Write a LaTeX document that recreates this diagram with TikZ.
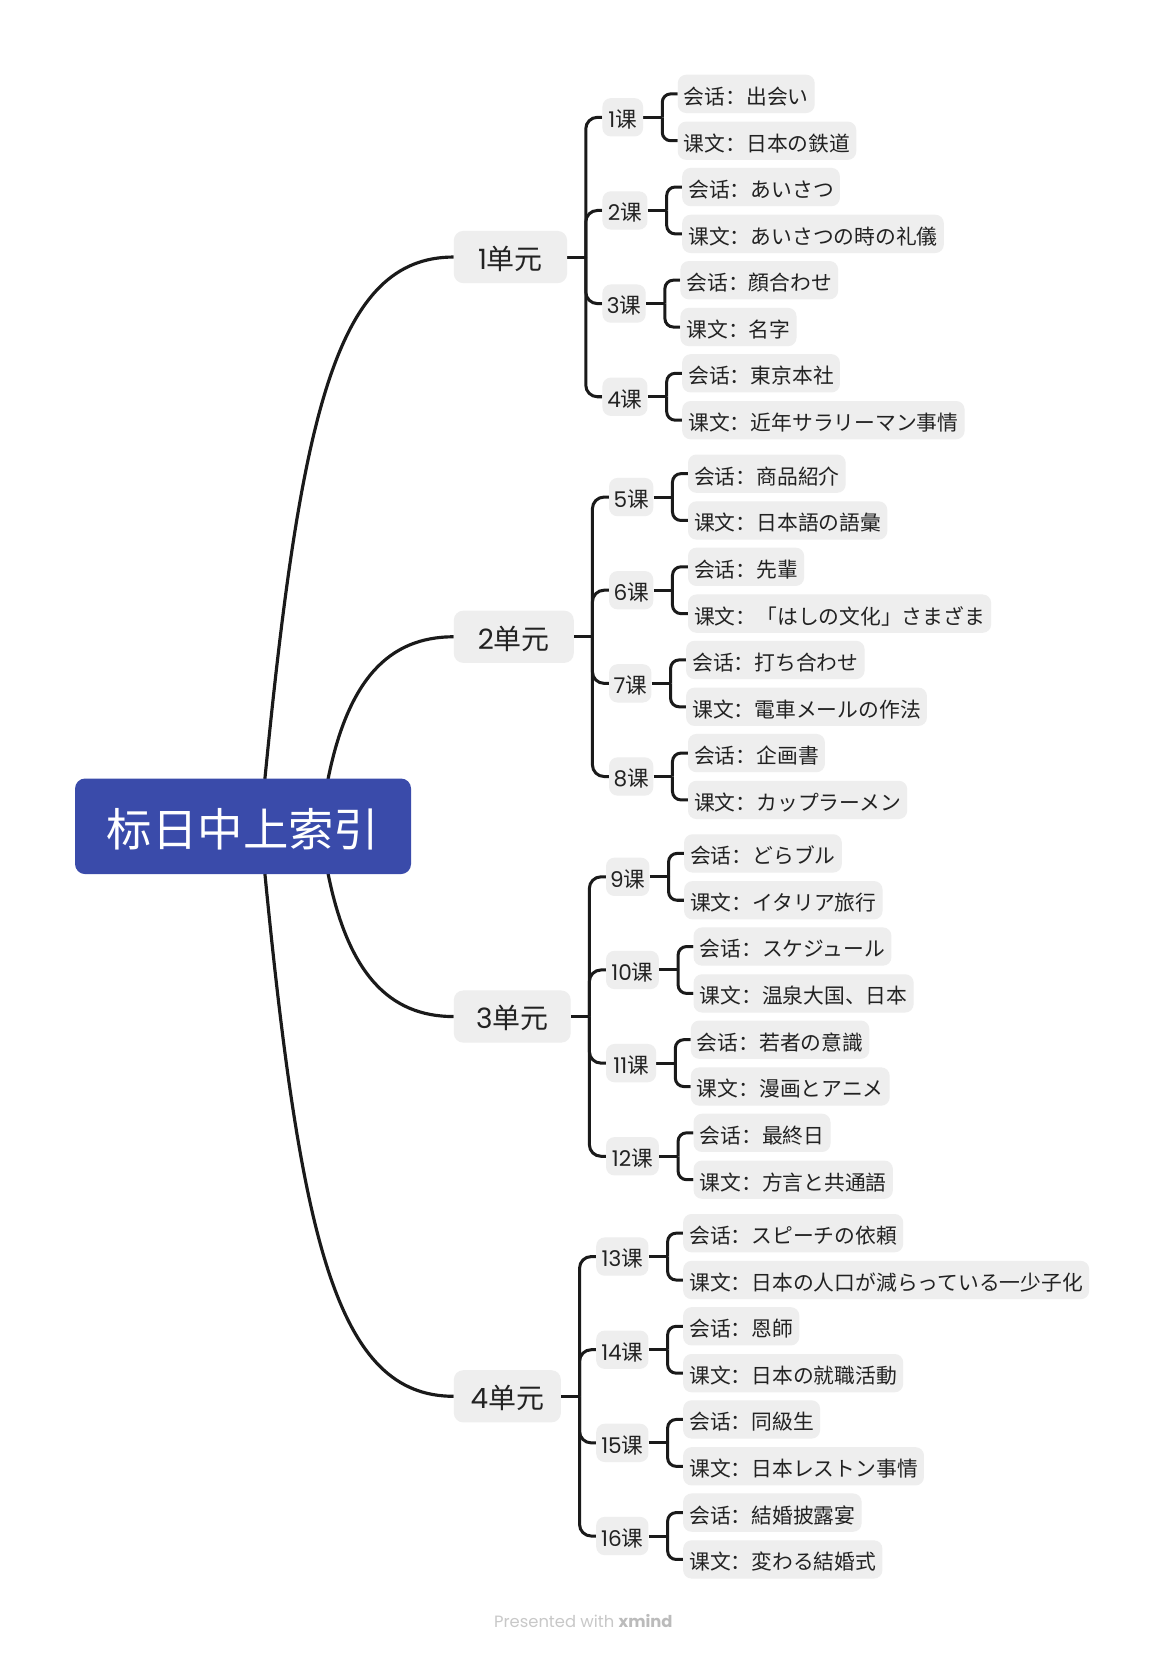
\documentclass[tikz,border=0pt]{standalone}
\usepackage{fontspec}
\setmainfont{Noto Sans CJK SC}
\newfontfamily\cjkfont{Noto Sans CJK SC}
\newfontfamily\latfont{Poppins}
\usetikzlibrary{calc,backgrounds}
\definecolor{rootblue}{HTML}{3A4BAA}
\definecolor{boxgray}{HTML}{EEEEEE}
\definecolor{inkc}{HTML}{222222}
\definecolor{linec}{HTML}{1A1A1A}
\definecolor{footgray}{HTML}{C8C8C8}
\definecolor{footdark}{HTML}{BBBBBB}
\tikzset{
 rootbox/.style={fill=rootblue, rounded corners=9.5pt, minimum width=318.5pt, minimum height=90.6pt, inner sep=0pt, text=white, font=\cjkfont\fontsize{43}{50}\selectfont, text height=41pt, text depth=2pt},
 unitbox/.style={fill=boxgray, rounded corners=9pt, minimum height=49.5pt, inner sep=0pt, text=inkc, font=\cjkfont\fontsize{26.5}{30}\selectfont, text height=25pt, text depth=1.5pt, anchor=west},
 lessonbox/.style={fill=boxgray, rounded corners=8pt, minimum height=36.3pt, inner sep=0pt, text=inkc, font=\cjkfont\fontsize{20.5}{24}\selectfont, text height=20pt, text depth=0.4pt, anchor=west},
 leafbox/.style={fill=boxgray, rounded corners=8pt, minimum height=36.3pt, inner xsep=5.8pt, inner ysep=0pt, text=inkc, font=\cjkfont\fontsize{19.7}{24}\selectfont, text height=19.7pt, text depth=0pt, anchor=west},
 branch/.style={draw=linec, line width=2.85pt},
 rootline/.style={draw=linec, line width=3pt},
}
% #1 unit, #2 lesson name, #3 x, #4 y, #5 width, #6 number, #7 dialogue, #8 text
\newcommand{\mklesson}[8]{%
 \node[lessonbox, minimum width=#5pt] (#2) at (#3,-#4) {{\latfont #6}课};
 \node[leafbox] (#2a) at ($(#2.east)+(32.5,22.2)$) {会话：#7};
 \node[leafbox] (#2b) at ($(#2.east)+(32.5,-22.2)$) {课文：#8};
 \begin{scope}[on background layer]
  \draw[branch] (#2.east) -- ++(18,0) coordinate (#2k);
  \draw[branch, rounded corners=8pt] (#2k) |- (#2a.west);
  \draw[branch, rounded corners=8pt] (#2k) |- (#2b.west);
  \draw[branch, rounded corners=11pt] (#1k) |- (#2.west);
 \end{scope}
}
\newcommand{\mkunit}[5]{%
 \node[unitbox, minimum width=#4pt] (#1) at (430,-#2) {{\latfont #3}单元};
 \coordinate (#1k) at ($(#1.east)+(17.5,0)$);
 \begin{scope}[on background layer]
  \draw[branch] (#1.east) -- (#1k);
 \end{scope}
}
\begin{document}
\begin{tikzpicture}[x=1pt,y=1pt]
\begin{scope}[on background layer]
 \fill[white] (0,0) rectangle (1106.3,-1567);
\end{scope}
\useasboundingbox (0,0) rectangle (1106.3,-1567);

\node[rootbox] (root) at (230.4,-783.3) {标日中上索引};

\mkunit{u1}{243.65}{1}{107.4}{}
\mkunit{u2}{603.65}{2}{113.7}{}
\mkunit{u3}{963.65}{3}{110.8}{}
\mkunit{u4}{1323.65}{4}{101.5}{}

\coordinate (r1) at (250.4,-745);
\coordinate (r2) at (309.7,-745);
\coordinate (r3) at (309.7,-821.6);
\coordinate (r4) at (250.4,-821.6);
\begin{scope}[on background layer]
 \draw[rootline] (r1) -- (251.2,-737.5) .. controls (285.5,-387.5) and ($(u1.west)+(-110,0)$) .. (u1.west);
 \draw[rootline] (r2) -- (311.2,-737.5) .. controls (330,-645) and ($(u2.west)+(-62,0)$) .. (u2.west);
 \draw[rootline] (r3) -- (311.2,-829.1) .. controls (330,-921.6) and ($(u3.west)+(-62,0)$) .. (u3.west);
 \draw[rootline] (r4) -- (251.2,-829.1) .. controls (285.5,-1179.1) and ($(u4.west)+(-110,0)$) .. (u4.west);
\end{scope}

\mklesson{u1}{l1}{570.9}{111.2}{38.5}{1}{出会い}{日本の鉄道}
\mklesson{u1}{l2}{570.9}{199.5}{42.7}{2}{あいさつ}{あいさつの時の礼儀}
\mklesson{u1}{l3}{570.9}{287.8}{41}{3}{顔合わせ}{名字}
\mklesson{u1}{l4}{570.9}{376.1}{42.7}{4}{東京本社}{近年サラリーマン事情}

\mklesson{u2}{l5}{577.2}{471.2}{41.9}{5}{商品紹介}{日本語の語彙}
\mklesson{u2}{l6}{577.2}{559.5}{41.9}{6}{先輩}{「はしの文化」さまざま}
\mklesson{u2}{l7}{577.2}{647.8}{40.1}{7}{打ち合わせ}{電車メールの作法}
\mklesson{u2}{l8}{577.2}{736.1}{41.9}{8}{企画書}{カップラーメン}

\mklesson{u3}{l9}{574.3}{831.2}{41.1}{9}{どらブル}{イタリア旅行}
\mklesson{u3}{l10}{574.3}{919.5}{50.1}{10}{スケジュール}{温泉大国、日本}
\mklesson{u3}{l11}{574.3}{1007.8}{47.5}{11}{若者の意識}{漫画とアニメ}
\mklesson{u3}{l12}{574.3}{1096.1}{50.1}{12}{最終日}{方言と共通語}

\mklesson{u4}{l13}{565}{1191.2}{49.5}{13}{スピーチの依頼}{日本の人口が減らっている一少子化}
\mklesson{u4}{l14}{565}{1279.5}{49.5}{14}{恩師}{日本の就職活動}
\mklesson{u4}{l15}{565}{1367.8}{49.5}{15}{同級生}{日本レストン事情}
\mklesson{u4}{l16}{565}{1456.1}{49.5}{16}{結婚披露宴}{変わる結婚式}

\node[font=\latfont\fontsize{15.5}{18}\selectfont, text=footgray, inner sep=0pt] (foot) at (553,-1537) {Presented with {\bfseries\color{footdark}xmind}};
\end{tikzpicture}
\end{document}
